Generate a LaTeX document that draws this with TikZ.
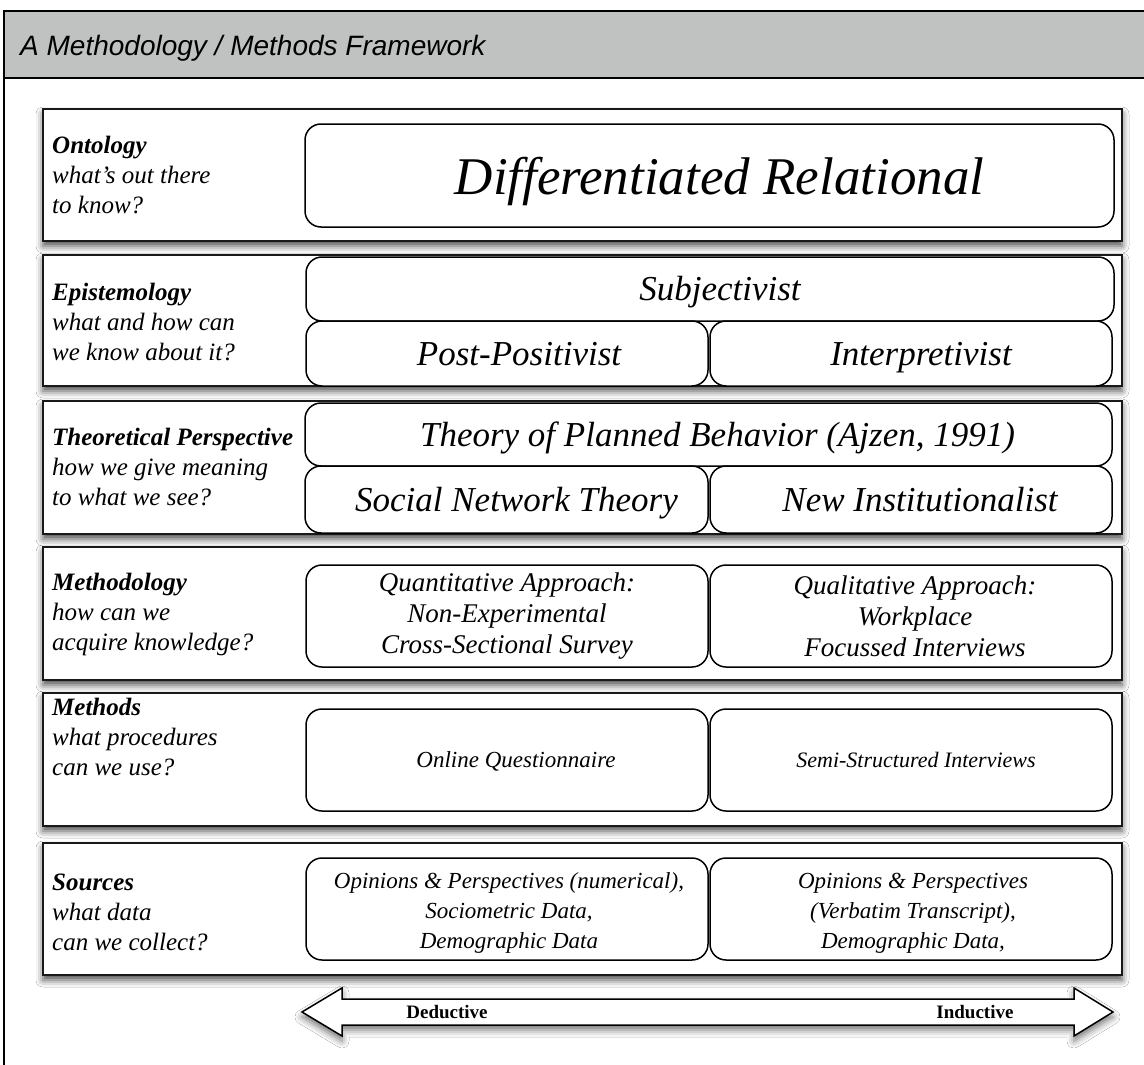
\documentclass[tikz,border=0pt]{standalone}
\usepackage{fontspec}
\setmainfont{Liberation Serif}
\newfontfamily\titlefont{Liberation Sans}
\usetikzlibrary{shadows.blur}
\definecolor{headgray}{RGB}{192,194,193}
\tikzset{
  panel/.style={draw=black!90, line width=2pt, fill=white, inner sep=0pt, outer sep=0pt,
    minimum width=1079pt, minimum height=132pt,
    blur shadow={shadow xshift=0pt, shadow yshift=-5pt, shadow blur radius=7pt, shadow opacity=70}},
  rbox/.style={draw=black, line width=1.5pt, rounded corners=16pt, fill=white, inner sep=0pt, outer sep=0pt},
  txt/.style={inner sep=0pt, align=center},
  lbl/.style={anchor=west, align=left, inner sep=0pt, font=\fontsize{25}{30}\selectfont\itshape},
  big/.style={txt, text height=36pt, text depth=1pt, font=\fontsize{53}{60}\selectfont\itshape},
  mid/.style={txt, text height=24pt, text depth=1pt, font=\fontsize{35}{40}\selectfont\itshape},
  small/.style={txt, font=\fontsize{27}{31}\selectfont\itshape},
  tiny/.style={txt, font=\fontsize{23}{30}\selectfont\itshape},
  tinyone/.style={txt, text height=16pt, text depth=1pt, font=\fontsize{23}{30}\selectfont\itshape},
  arrlbl/.style={inner sep=0pt, font=\fontsize{19}{22}\selectfont\bfseries},
}
\begin{document}
\begin{tikzpicture}[x=1pt, y=-1pt]
\useasboundingbox (0,0) rectangle (1144,1065);
\clip (0,0) rectangle (1144,1065);
% outer frame and header
\fill[white] (0,0) rectangle (1144,1065);
\draw[line width=2pt, fill=headgray] (4,11) rectangle (1170,78);
\draw[line width=2pt] (4,78) -- (4,1090);
\node[anchor=base west, inner sep=0pt, font=\titlefont\itshape\fontsize{28}{32}\selectfont] (title) at (20,56) {A Methodology / Methods Framework};

% panels
\node[panel] (p1) at (582.5,175) {};
\node[panel, minimum height=131pt] (p2) at (582.5,320.5) {};
\node[panel, minimum height=133pt] (p3) at (582.5,467.5) {};
\node[panel, minimum height=133pt] (p4) at (582.5,613.5) {};
\node[panel, minimum height=133pt] (p5) at (582.5,759.5) {};
\node[panel] (p6) at (582.5,909) {};

% labels
\node[lbl] (l1) at (52,175) {\textbf{Ontology}\\what’s out there\\to know?};
\node[lbl] (l2) at (52,322) {\textbf{Epistemology}\\what and how can\\we know about it?};
\node[lbl] (l3) at (52,467) {\textbf{Theoretical Perspective}\\how we give meaning\\to what we see?};
\node[lbl] (l4) at (52,614) {\textbf{Methodology}\\how can we\\acquire knowledge?};
\node[lbl] (l5) at (52,737) {\textbf{Methods}\\what procedures\\can we use?};
\node[lbl] (l6) at (52,912) {\textbf{Sources}\\what data\\can we collect?};

% ontology
\node[rbox, minimum width=809pt, minimum height=103pt] (b1) at (709.5,175.5) {};
\node[big] (t1) at ([xshift=10pt, yshift=-1pt]b1.center) {Differentiated Relational};
% epistemology
\node[rbox, minimum width=808pt, minimum height=64pt] (b2) at (710,289) {};
\node[rbox, minimum width=402pt, minimum height=65pt] (b2l) at (507,353.5) {};
\node[rbox, minimum width=402pt, minimum height=65pt] (b2r) at (911,353.5) {};
\node[mid] (t2) at ([xshift=10pt]b2.center) {Subjectivist};
\node[mid] (t2l) at ([xshift=12pt]b2l.center) {Post-Positivist};
\node[mid] (t2r) at ([xshift=10pt]b2r.center) {Interpretivist};
% theoretical perspective
\node[rbox, minimum width=807pt, minimum height=63pt] (b3) at (708.5,434.5) {};
\node[rbox, minimum width=403pt, minimum height=67pt] (b3l) at (506.5,499.5) {};
\node[rbox, minimum width=402pt, minimum height=67pt] (b3r) at (911,499.5) {};
\node[mid] (t3) at ([xshift=9pt]b3.center) {Theory of Planned Behavior (Ajzen, 1991)};
\node[mid] (t3l) at ([xshift=10pt]b3l.center) {Social Network Theory};
\node[mid] (t3r) at ([xshift=9pt]b3r.center) {New Institutionalist};
% methodology
\node[rbox, minimum width=402pt, minimum height=102pt] (b4l) at (507,616) {};
\node[rbox, minimum width=402pt, minimum height=102pt] (b4r) at (911,616) {};
\node[small] (t4l) at (b4l.center) {Quantitative Approach:\\Non-Experimental\\Cross-Sectional Survey};
\node[small] (t4r) at ([xshift=4pt]b4r.center) {Qualitative Approach:\\Workplace\\Focussed Interviews};
% methods
\node[rbox, minimum width=402pt, minimum height=102pt] (b5l) at (507,760) {};
\node[rbox, minimum width=402pt, minimum height=102pt] (b5r) at (911,760) {};
\node[tinyone] (t5l) at ([xshift=9pt]b5l.center) {Online Questionnaire};
\node[tinyone, font=\fontsize{22}{30}\selectfont\itshape] (t5r) at ([xshift=5pt]b5r.center) {Semi-Structured Interviews};
% sources
\node[rbox, minimum width=402pt, minimum height=102pt] (b6l) at (507,909) {};
\node[rbox, minimum width=402pt, minimum height=102pt] (b6r) at (911,909) {};
\node[tiny] (t6l) at ([xshift=2pt, yshift=-4pt]b6l.center) {Opinions \& Perspectives (numerical),\\Sociometric Data,\\Demographic Data};
\node[tiny] (t6r) at ([xshift=2pt, yshift=-4pt]b6r.center) {Opinions \& Perspectives\\(Verbatim Transcript),\\Demographic Data,};

% double arrow
\draw[line width=1.5pt, fill=white, line join=miter,
  blur shadow={shadow xshift=0pt, shadow yshift=-5pt, shadow blur radius=7pt, shadow opacity=55}]
  (302,1012) -- (342,988) -- (342,999) -- (1074,999) -- (1074,988) -- (1113,1012)
  -- (1074,1036) -- (1074,1025) -- (342,1025) -- (342,1036) -- cycle;
\node[arrlbl] (ded) at (447,1012) {Deductive};
\node[arrlbl] (ind) at (975,1012) {Inductive};
\end{tikzpicture}
\end{document}
